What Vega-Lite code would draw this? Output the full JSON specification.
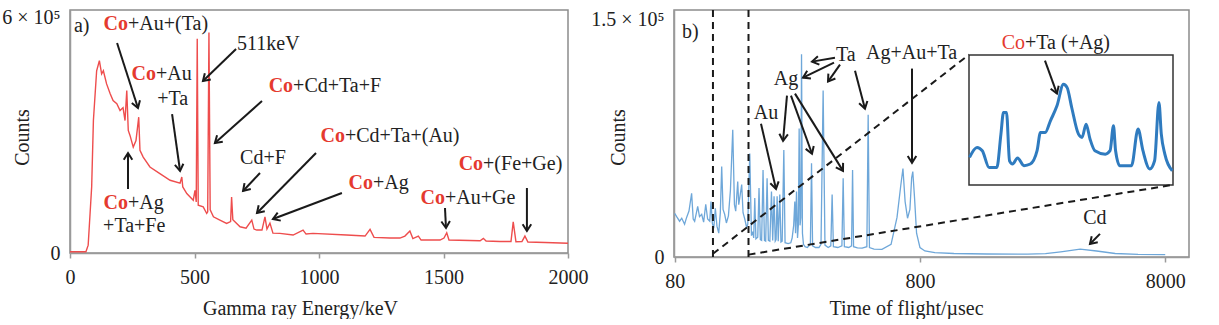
{
  "$schema": "https://vega.github.io/schema/vega-lite/v6.json",
  "background": "white",
  "padding": {"left": 0, "top": 7, "right": 5, "bottom": 0},
  "autosize": {"type": "pad"},
  "bounds": "flush",
  "spacing": 106,
  "config": {
    "view": {"stroke": "#8c8c8c", "strokeWidth": 1.5},
    "axis": {
      "grid": false,
      "labelFont": "Liberation Serif", "labelFontSize": 20, "labelColor": "#222",
      "titleFont": "Liberation Serif", "titleFontSize": 20, "titleFontWeight": "normal", "titleColor": "#222",
      "domainColor": "#9a9a9a", "domainWidth": 1.5, "tickColor": "#9a9a9a", "tickWidth": 1.5
    },
    "text": {"font": "Liberation Serif", "fontSize": 20}
  },
  "datasets": {
    "gammaSpectrum": [
      {"energy": 0, "counts": 3000}, {"energy": 64, "counts": 3000}, {"energy": 73, "counts": 20000},
      {"energy": 87, "counts": 168500}, {"energy": 94, "counts": 338000}, {"energy": 107, "counts": 465000},
      {"energy": 118, "counts": 490600}, {"energy": 127, "counts": 456800}, {"energy": 134, "counts": 465000},
      {"energy": 147, "counts": 431400}, {"energy": 161, "counts": 406700}, {"energy": 173, "counts": 389000},
      {"energy": 188, "counts": 381000}, {"energy": 201, "counts": 363500}, {"energy": 213, "counts": 371000},
      {"energy": 221, "counts": 338000}, {"energy": 228, "counts": 414300}, {"energy": 234, "counts": 312700},
      {"energy": 241, "counts": 300000}, {"energy": 254, "counts": 270200}, {"energy": 265, "counts": 287000},
      {"energy": 276, "counts": 346500}, {"energy": 281, "counts": 261800}, {"energy": 294, "counts": 244800},
      {"energy": 321, "counts": 219400}, {"energy": 361, "counts": 202600}, {"energy": 402, "counts": 185600},
      {"energy": 442, "counts": 178000}, {"energy": 449, "counts": 194000}, {"energy": 453, "counts": 168500},
      {"energy": 469, "counts": 151800}, {"energy": 495, "counts": 134700}, {"energy": 502, "counts": 160000},
      {"energy": 507, "counts": 130400}, {"energy": 511, "counts": 546500}, {"energy": 515, "counts": 122000},
      {"energy": 535, "counts": 117700}, {"energy": 549, "counts": 100900}, {"energy": 553, "counts": 105000},
      {"energy": 558, "counts": 562500}, {"energy": 563, "counts": 110000}, {"energy": 576, "counts": 92300},
      {"energy": 602, "counts": 83900}, {"energy": 629, "counts": 75500}, {"energy": 645, "counts": 80000},
      {"energy": 649, "counts": 143100}, {"energy": 654, "counts": 85000}, {"energy": 683, "counts": 66900},
      {"energy": 707, "counts": 63500}, {"energy": 730, "counts": 83900}, {"energy": 739, "counts": 61000},
      {"energy": 750, "counts": 58500}, {"energy": 771, "counts": 58500}, {"energy": 783, "counts": 92300},
      {"energy": 791, "counts": 61000}, {"energy": 803, "counts": 76300}, {"energy": 815, "counts": 50800},
      {"energy": 843, "counts": 50000}, {"energy": 896, "counts": 45800}, {"energy": 936, "counts": 58500},
      {"energy": 948, "counts": 48300}, {"energy": 976, "counts": 50000}, {"energy": 1111, "counts": 45800},
      {"energy": 1185, "counts": 43200}, {"energy": 1205, "counts": 60200}, {"energy": 1221, "counts": 39900},
      {"energy": 1285, "counts": 38100}, {"energy": 1325, "counts": 38100}, {"energy": 1345, "counts": 43200},
      {"energy": 1365, "counts": 55900}, {"energy": 1377, "counts": 36900}, {"energy": 1399, "counts": 43200},
      {"energy": 1410, "counts": 33000}, {"energy": 1486, "counts": 33000}, {"energy": 1502, "counts": 38100},
      {"energy": 1513, "counts": 51600}, {"energy": 1522, "counts": 33000}, {"energy": 1647, "counts": 31300},
      {"energy": 1660, "counts": 37400}, {"energy": 1671, "counts": 30500}, {"energy": 1727, "counts": 29200},
      {"energy": 1771, "counts": 29200}, {"energy": 1780, "counts": 79600}, {"energy": 1791, "counts": 28700},
      {"energy": 1815, "counts": 29200}, {"energy": 1827, "counts": 43200}, {"energy": 1839, "counts": 28000},
      {"energy": 1908, "counts": 26700}, {"energy": 2000, "counts": 24700}
    ],
    "gammaArrows": [
      {"energy": 273, "counts": 369900, "energy2": 189, "counts2": 535700, "heading": 162},
      {"energy": 442, "counts": 209200, "energy2": 410, "counts2": 354600, "heading": 172},
      {"energy": 534, "counts": 438800, "energy2": 667, "counts2": 520400, "heading": 226},
      {"energy": 582, "counts": 280600, "energy2": 771, "counts2": 387800, "heading": 228},
      {"energy": 695, "counts": 158200, "energy2": 763, "counts2": 204100, "heading": 223},
      {"energy": 751, "counts": 102000, "energy2": 988, "counts2": 255100, "heading": 224.5},
      {"energy": 815, "counts": 86700, "energy2": 1092, "counts2": 153100, "heading": 249},
      {"energy": 1510, "counts": 63800, "energy2": 1506, "counts2": 114800, "heading": 177},
      {"energy": 1835, "counts": 56100, "energy2": 1835, "counts2": 165800, "heading": 180},
      {"energy": 233, "counts": 255100, "energy2": 233, "counts2": 163300, "heading": 0}
    ],
    "gammaNotes": [
      {"energy": 16, "counts": 579100, "label": "a)", "kind": "left"},
      {"energy": 233, "counts": 585000, "label": "Co", "kind": "red"},
      {"energy": 233, "counts": 585000, "label": "+Au+(Ta)", "kind": "left"},
      {"energy": 345, "counts": 456600, "label": "Co", "kind": "red"},
      {"energy": 345, "counts": 456600, "label": "+Au", "kind": "left"},
      {"energy": 350, "counts": 392900, "label": "+Ta", "kind": "left"},
      {"energy": 671, "counts": 533200, "label": "511keV", "kind": "left"},
      {"energy": 896, "counts": 426000, "label": "Co", "kind": "red"},
      {"energy": 896, "counts": 426000, "label": "+Cd+Ta+F", "kind": "left"},
      {"energy": 775, "counts": 242300, "label": "Cd+F", "kind": "center"},
      {"energy": 1104, "counts": 298500, "label": "Co", "kind": "red"},
      {"energy": 1104, "counts": 298500, "label": "+Cd+Ta+(Au)", "kind": "left"},
      {"energy": 1217, "counts": 178600, "label": "Co", "kind": "red"},
      {"energy": 1217, "counts": 178600, "label": "+Ag", "kind": "left"},
      {"energy": 1506, "counts": 140300, "label": "Co", "kind": "red"},
      {"energy": 1506, "counts": 140300, "label": "+Au+Ge", "kind": "left"},
      {"energy": 1659, "counts": 227000, "label": "Co", "kind": "red"},
      {"energy": 1659, "counts": 227000, "label": "+(Fe+Ge)", "kind": "left"},
      {"energy": 233, "counts": 127600, "label": "Co", "kind": "red"},
      {"energy": 233, "counts": 127600, "label": "+Ag", "kind": "left"},
      {"energy": 133, "counts": 68900, "label": "+Ta+Fe", "kind": "left"}
    ],
    "tofSpectrum": [
      {"tof": 80, "counts": 27600}, {"tof": 81.5, "counts": 25500}, {"tof": 83.8, "counts": 22600},
      {"tof": 85.5, "counts": 24500}, {"tof": 87.8, "counts": 20700}, {"tof": 89.5, "counts": 25000},
      {"tof": 91.5, "counts": 29000}, {"tof": 93.8, "counts": 40200}, {"tof": 95.2, "counts": 24000},
      {"tof": 96.5, "counts": 22600}, {"tof": 98, "counts": 27500}, {"tof": 99.3, "counts": 32000},
      {"tof": 101, "counts": 25500}, {"tof": 103.1, "counts": 27000}, {"tof": 105, "counts": 22000},
      {"tof": 107.1, "counts": 33300}, {"tof": 109, "counts": 24000}, {"tof": 111.2, "counts": 22600},
      {"tof": 112.5, "counts": 35100}, {"tof": 114, "counts": 21000}, {"tof": 115.5, "counts": 18200},
      {"tof": 117.2, "counts": 30800}, {"tof": 119, "counts": 19500}, {"tof": 121, "counts": 15100},
      {"tof": 122.8, "counts": 28000}, {"tof": 124.4, "counts": 57100}, {"tof": 126, "counts": 30000},
      {"tof": 127.9, "counts": 27000}, {"tof": 130, "counts": 21500}, {"tof": 132.5, "counts": 26000},
      {"tof": 135, "counts": 42000}, {"tof": 138, "counts": 80300}, {"tof": 140.2, "counts": 33000},
      {"tof": 141.9, "counts": 28900}, {"tof": 144.6, "counts": 47700}, {"tof": 146, "counts": 33000},
      {"tof": 147.3, "counts": 37000}, {"tof": 150.1, "counts": 45800}, {"tof": 152, "counts": 28000},
      {"tof": 154.5, "counts": 24000}, {"tof": 157, "counts": 19000}, {"tof": 158.9, "counts": 20700},
      {"tof": 161.9, "counts": 65300}, {"tof": 164.5, "counts": 13500}, {"tof": 166.5, "counts": 16000},
      {"tof": 168, "counts": 12000}, {"tof": 169.7, "counts": 37200}, {"tof": 171.5, "counts": 11500},
      {"tof": 174.5, "counts": 12500}, {"tof": 176.6, "counts": 43500}, {"tof": 178.8, "counts": 11000},
      {"tof": 181, "counts": 10500}, {"tof": 183.4, "counts": 55000}, {"tof": 185.8, "counts": 10500},
      {"tof": 188, "counts": 10000}, {"tof": 190.5, "counts": 49800}, {"tof": 192.8, "counts": 10500},
      {"tof": 195.5, "counts": 10000}, {"tof": 198.5, "counts": 41400}, {"tof": 200.8, "counts": 10500},
      {"tof": 203.4, "counts": 38300}, {"tof": 205.6, "counts": 10000}, {"tof": 207.3, "counts": 11000},
      {"tof": 209.3, "counts": 38300}, {"tof": 211.5, "counts": 10000}, {"tof": 214.6, "counts": 39400},
      {"tof": 217, "counts": 9500}, {"tof": 219.5, "counts": 10000}, {"tof": 222.9, "counts": 67600},
      {"tof": 225.5, "counts": 9000}, {"tof": 232, "counts": 8500}, {"tof": 238, "counts": 9000},
      {"tof": 241, "counts": 12000}, {"tof": 244.5, "counts": 20000}, {"tof": 247.1, "counts": 35100},
      {"tof": 248.8, "counts": 15000}, {"tof": 251.1, "counts": 41400}, {"tof": 253.5, "counts": 12000},
      {"tof": 255.5, "counts": 20000}, {"tof": 257.4, "counts": 81100}, {"tof": 259.5, "counts": 20000},
      {"tof": 261.5, "counts": 25000}, {"tof": 263.2, "counts": 128000}, {"tof": 265.5, "counts": 15000},
      {"tof": 268, "counts": 8000}, {"tof": 272, "counts": 6500}, {"tof": 278, "counts": 6000},
      {"tof": 286, "counts": 8000}, {"tof": 289.1, "counts": 59200}, {"tof": 292, "counts": 7000},
      {"tof": 300, "counts": 6000}, {"tof": 310, "counts": 6000}, {"tof": 316, "counts": 8000},
      {"tof": 322.4, "counts": 105200}, {"tof": 328, "counts": 7500}, {"tof": 338, "counts": 6000},
      {"tof": 346.5, "counts": 7000}, {"tof": 350.8, "counts": 39400}, {"tof": 355, "counts": 6500},
      {"tof": 370, "counts": 6000}, {"tof": 384.5, "counts": 7000}, {"tof": 389.1, "counts": 49800},
      {"tof": 393.5, "counts": 6500}, {"tof": 410, "counts": 6000}, {"tof": 421, "counts": 7000},
      {"tof": 425, "counts": 55000}, {"tof": 429, "counts": 6500}, {"tof": 445, "counts": 5800},
      {"tof": 465, "counts": 5600}, {"tof": 486, "counts": 6500}, {"tof": 492, "counts": 89900},
      {"tof": 498, "counts": 6000}, {"tof": 520, "counts": 5000}, {"tof": 560, "counts": 4800},
      {"tof": 610, "counts": 8000}, {"tof": 645, "counts": 25000}, {"tof": 668, "counts": 45000},
      {"tof": 682, "counts": 55900}, {"tof": 696, "counts": 35000}, {"tof": 712, "counts": 24500},
      {"tof": 728, "counts": 30000}, {"tof": 740, "counts": 50000}, {"tof": 748, "counts": 54000},
      {"tof": 760, "counts": 38000}, {"tof": 775, "counts": 15000}, {"tof": 800, "counts": 6000},
      {"tof": 838, "counts": 3800}, {"tof": 920, "counts": 2800}, {"tof": 1100, "counts": 2200},
      {"tof": 1500, "counts": 1900}, {"tof": 2200, "counts": 1800}, {"tof": 2600, "counts": 2100},
      {"tof": 3000, "counts": 3300}, {"tof": 3600, "counts": 5000}, {"tof": 4200, "counts": 3800},
      {"tof": 5000, "counts": 2200}, {"tof": 6200, "counts": 1700}, {"tof": 8000, "counts": 1500}
    ],
    "insetFrame": [
      {"tof": 115, "tof2": 160, "counts": 10000, "counts2": 90000}
    ],
    "insetTrace": [
      {"tof": 115.1, "counts": 27000}, {"tof": 116.5, "counts": 33100}, {"tof": 117.5, "counts": 31100},
      {"tof": 118.8, "counts": 20800}, {"tof": 120.3, "counts": 20800}, {"tof": 121.1, "counts": 41300},
      {"tof": 121.6, "counts": 54600}, {"tof": 122.2, "counts": 54600}, {"tof": 122.8, "counts": 24900},
      {"tof": 123.4, "counts": 22900}, {"tof": 124.4, "counts": 26600}, {"tof": 125.7, "counts": 21900},
      {"tof": 127.0, "counts": 22900}, {"tof": 128.4, "counts": 31100}, {"tof": 129.1, "counts": 42300},
      {"tof": 130.1, "counts": 42300}, {"tof": 131.2, "counts": 49500}, {"tof": 132.6, "counts": 58700},
      {"tof": 134.0, "counts": 72000}, {"tof": 134.8, "counts": 69900}, {"tof": 135.8, "counts": 57700},
      {"tof": 137.3, "counts": 41300}, {"tof": 138.1, "counts": 39300}, {"tof": 139.0, "counts": 47400},
      {"tof": 139.9, "counts": 38200}, {"tof": 141.0, "counts": 31100}, {"tof": 143.4, "counts": 29000},
      {"tof": 144.5, "counts": 31100}, {"tof": 145.3, "counts": 46400}, {"tof": 145.8, "counts": 31100},
      {"tof": 146.8, "counts": 21900}, {"tof": 149.6, "counts": 21900}, {"tof": 151.2, "counts": 44400},
      {"tof": 152.4, "counts": 31100}, {"tof": 154.1, "counts": 19800}, {"tof": 155.3, "counts": 24900},
      {"tof": 156.4, "counts": 60700}, {"tof": 157.0, "counts": 41300}, {"tof": 157.9, "counts": 29000},
      {"tof": 159.8, "counts": 18800}
    ],
    "zoomGuides": [
      {"tof": 114.6, "counts": 0, "tof2": 114.6, "counts2": 156000},
      {"tof": 160, "counts": 0, "tof2": 160, "counts2": 156000},
      {"tof": 114.6, "counts": 2000, "tof2": 1267, "counts2": 127800},
      {"tof": 160, "counts": 1500, "tof2": 8602, "counts2": 45600}
    ],
    "tofArrows": [
      {"tof": 290.4, "counts": 123400, "tof2": 360.3, "counts2": 125900, "heading": 260},
      {"tof": 266.9, "counts": 113300, "tof2": 357, "counts2": 122800, "heading": 244},
      {"tof": 337.5, "counts": 110800, "tof2": 377.7, "counts2": 121500, "heading": 215},
      {"tof": 221.3, "counts": 73400, "tof2": 229.6, "counts2": 101900, "heading": 185},
      {"tof": 290.4, "counts": 65200, "tof2": 238.4, "counts2": 101900, "heading": 160},
      {"tof": 388.5, "counts": 54400, "tof2": 247.5, "counts2": 103200, "heading": 148},
      {"tof": 207.1, "counts": 43000, "tof2": 179.9, "counts2": 84200, "heading": 167},
      {"tof": 477.5, "counts": 93700, "tof2": 434.8, "counts2": 117700, "heading": 165},
      {"tof": 742.5, "counts": 59500, "tof2": 742.5, "counts2": 119000, "heading": 180},
      {"tof": 2895, "counts": 103200, "tof2": 2587, "counts2": 124000, "heading": 160},
      {"tof": 3947, "counts": 8200, "tof2": 4335, "counts2": 14600, "heading": 225}
    ],
    "tofNotes": [
      {"tof": 85.7, "counts": 141800, "label": "b)", "kind": "left"},
      {"tof": 363.7, "counts": 127800, "label": "Ta", "kind": "left"},
      {"tof": 227.5, "counts": 112700, "label": "Ag", "kind": "center"},
      {"tof": 188.5, "counts": 91100, "label": "Au", "kind": "center"},
      {"tof": 482, "counts": 129100, "label": "Ag+Au+Ta", "kind": "left"},
      {"tof": 2145, "counts": 135400, "label": "Co", "kind": "red"},
      {"tof": 2145, "counts": 135400, "label": "+Ta (+Ag)", "kind": "left"},
      {"tof": 4136, "counts": 24700, "label": "Cd", "kind": "center"}
    ]
  },
  "hconcat": [
    {
      "width": 498,
      "height": 243,
      "encoding": {
        "x": {
          "field": "energy", "type": "quantitative",
          "scale": {"domain": [0, 2000], "nice": false, "zero": false},
          "axis": {
            "title": "Gamma ray Energy/keV", "values": [0, 500, 1000, 1500, 2000], "format": "d",
            "tickSize": 5, "labelPadding": 9, "labelFlush": false,
            "titleX": 230, "titleY": 55, "titleAlign": "center", "titleBaseline": "middle"
          }
        },
        "y": {
          "field": "counts", "type": "quantitative",
          "scale": {"domain": [0, 620000], "nice": false},
          "axis": {
            "title": "Counts", "values": [0, 600000],
            "labelExpr": "datum.value == 0 ? '0' : '6 × 10⁵'",
            "ticks": false, "labelPadding": 10,
            "titleX": -48, "titleY": 127, "titleAlign": "center", "titleBaseline": "middle"
          }
        }
      },
      "layer": [
        {"data": {"name": "gammaSpectrum"}, "mark": {"type": "line", "color": "#ee4d4d", "strokeWidth": 1.4}, "encoding": {}},
        {
          "data": {"name": "gammaArrows"},
          "layer": [
            {"mark": {"type": "rule", "color": "#1a1a1a", "strokeWidth": 2}, "encoding": {"x2": {"field": "energy2"}, "y2": {"field": "counts2"}}},
            {"mark": {"type": "point", "shape": "M-0.7,1.1L0,0L0.7,1.1", "filled": false, "color": "#1a1a1a", "strokeWidth": 2, "size": 150, "opacity": 1},
             "encoding": {"angle": {"field": "heading", "type": "quantitative", "scale": null}}}
          ]
        },
        {
          "data": {"name": "gammaNotes"},
          "layer": [
            {"transform": [{"filter": "datum.kind == 'red'"}], "mark": {"type": "text", "align": "right", "baseline": "middle", "color": "#e53a2f", "fontWeight": "bold"}, "encoding": {"text": {"field": "label"}}},
            {"transform": [{"filter": "datum.kind == 'left'"}], "mark": {"type": "text", "align": "left", "baseline": "middle", "color": "#222"}, "encoding": {"text": {"field": "label"}}},
            {"transform": [{"filter": "datum.kind == 'center'"}], "mark": {"type": "text", "align": "center", "baseline": "middle", "color": "#222"}, "encoding": {"text": {"field": "label"}}}
          ]
        }
      ]
    },
    {
      "width": 515,
      "height": 247,
      "layer": [
        {
          "encoding": {
            "x": {"field": "tof", "type": "quantitative", "scale": {"type": "log", "domain": [115, 160], "range": [295, 499], "nice": false}, "axis": null},
            "y": {"field": "counts", "type": "quantitative", "scale": {"domain": [10000, 90000], "range": [175, 45], "nice": false, "zero": false}, "axis": null}
          },
          "layer": [
            {"data": {"name": "insetFrame"}, "mark": {"type": "rect", "fill": "white", "stroke": "#333", "strokeWidth": 1.5}, "encoding": {"x2": {"field": "tof2"}, "y2": {"field": "counts2"}}},
            {"data": {"name": "insetTrace"}, "mark": {"type": "line", "color": "#2f7bbf", "strokeWidth": 3, "interpolate": "monotone"}, "encoding": {}}
          ]
        },
        {
          "encoding": {
            "x": {
              "field": "tof", "type": "quantitative",
              "scale": {"type": "log", "domain": [79.5, 10000], "nice": false},
              "axis": {
                "orient": "bottom", "title": "Time of flight/µsec", "values": [80, 800, 8000], "format": "d",
                "tickSize": 5, "labelPadding": 9, "labelFlush": false,
                "titleX": 232, "titleY": 51, "titleAlign": "center", "titleBaseline": "middle"
              }
            },
            "y": {
              "field": "counts", "type": "quantitative",
              "scale": {"domain": [0, 156000], "nice": false},
              "axis": {
                "orient": "left", "title": "Counts", "values": [0, 150000],
                "labelExpr": "datum.value == 0 ? '0' : '1.5 × 10⁵'",
                "ticks": false, "labelPadding": 10,
                "titleX": -56, "titleY": 127, "titleAlign": "center", "titleBaseline": "middle"
              }
            }
          },
          "layer": [
            {"data": {"name": "tofSpectrum"}, "mark": {"type": "line", "color": "#6ea7d9", "strokeWidth": 1.3}, "encoding": {}},
            {"data": {"name": "zoomGuides"}, "mark": {"type": "rule", "color": "#1a1a1a", "strokeWidth": 2, "strokeDash": [7, 5]}, "encoding": {"x2": {"field": "tof2"}, "y2": {"field": "counts2"}}},
            {
              "data": {"name": "tofArrows"},
              "layer": [
                {"mark": {"type": "rule", "color": "#1a1a1a", "strokeWidth": 2}, "encoding": {"x2": {"field": "tof2"}, "y2": {"field": "counts2"}}},
                {"mark": {"type": "point", "shape": "M-0.7,1.1L0,0L0.7,1.1", "filled": false, "color": "#1a1a1a", "strokeWidth": 2, "size": 150, "opacity": 1},
                 "encoding": {"angle": {"field": "heading", "type": "quantitative", "scale": null}}}
              ]
            },
            {
              "data": {"name": "tofNotes"},
              "layer": [
                {"transform": [{"filter": "datum.kind == 'red'"}], "mark": {"type": "text", "align": "right", "baseline": "middle", "color": "#e53a2f"}, "encoding": {"text": {"field": "label"}}},
                {"transform": [{"filter": "datum.kind == 'left'"}], "mark": {"type": "text", "align": "left", "baseline": "middle", "color": "#222"}, "encoding": {"text": {"field": "label"}}},
                {"transform": [{"filter": "datum.kind == 'center'"}], "mark": {"type": "text", "align": "center", "baseline": "middle", "color": "#222"}, "encoding": {"text": {"field": "label"}}}
              ]
            }
          ]
        }
      ],
      "resolve": {"scale": {"x": "independent", "y": "independent"}}
    }
  ]
}
